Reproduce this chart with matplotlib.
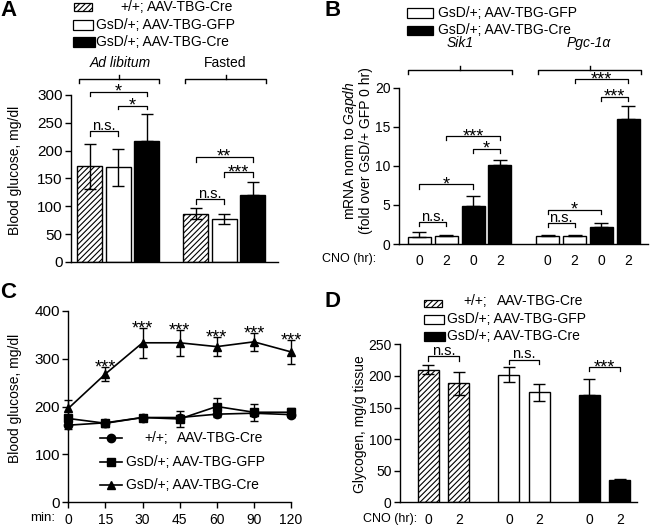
import matplotlib
matplotlib.use("Agg")
import matplotlib.pyplot as plt
from matplotlib.patches import Rectangle
from matplotlib.lines import Line2D

plt.rcParams['font.family'] = ['Liberation Sans', 'DejaVu Sans']
plt.rcParams['mathtext.fontset'] = 'custom'
plt.rcParams['mathtext.it'] = 'Liberation Sans:italic'
plt.rcParams['mathtext.rm'] = 'Liberation Sans'
plt.rcParams['hatch.linewidth'] = 0.8
plt.rcParams['font.size'] = 10

# ---------------- data ----------------
genotypes = ['+/+;', 'GsD/+;', 'GsD/+;']
vectors = ['AAV-TBG-Cre', 'AAV-TBG-GFP', 'AAV-TBG-Cre']

# Panel A: blood glucose (mg/dl)
A_conditions = ['Ad libitum', 'Fasted']
A_adlib = [172, 170, 217]
A_adlib_err = [40, 33, 48]
A_fasted = [87, 77, 120]
A_fasted_err = [10, 9, 23]

# Panel B: mRNA fold change
B_genes = ['Sik1', 'Pgc-1α']
B_cno = ['0', '2', '0', '2']
B_sik1 = [0.95, 1.02, 4.85, 10.1]
B_sik1_err = [0.55, 0.08, 1.25, 0.7]
B_pgc = [1.05, 1.0, 2.2, 16.05]
B_pgc_err = [0.13, 0.1, 0.5, 1.55]

# Panel C: blood glucose time course
C_time = ['0', '15', '30', '45', '60', '90', '120']
C_wt_cre = [161, 166, 177, 177, 184, 186, 183]
C_wt_cre_err = [9, 5, 6, 6, 5, 5, 5]
C_gsd_gfp = [175, 165, 177, 174, 200, 188, 188]
C_gsd_gfp_err = [8, 7, 6, 16, 17, 18, 9]
C_gsd_cre = [196, 268, 333, 333, 325, 335, 314]
C_gsd_cre_err = [18, 15, 31, 27, 20, 19, 25]
C_stars = ['', '***', '***', '***', '***', '***', '***']

# Panel D: glycogen (mg/g tissue)
D_cno = ['0', '2']
D_wt_cre = [210, 188]
D_wt_cre_err = [7, 18]
D_gsd_gfp = [202, 174]
D_gsd_gfp_err = [12, 13]
D_gsd_cre = [170, 35]
D_gsd_cre_err = [25, 2]

# ---------------- helpers ----------------
W, H = 650, 527
fig = plt.figure(figsize=(6.5, 5.27), dpi=100)

STAR_FS = 13
NS_FS = 10.5


def fx(x):
    return x / W


def fy(y):
    return 1 - y / H


def add_ax(left, right, top, bottom):
    return fig.add_axes([fx(left), fy(bottom), (right - left) / W, (bottom - top) / H])


def fline(xs, ys, lw=1.0):
    fig.add_artist(Line2D([fx(x) for x in xs], [fy(y) for y in ys],
                          transform=fig.transFigure, color='k', lw=lw))


def ftext(x, y, s, **kw):
    fig.text(fx(x), fy(y), s, **kw)


def frect(x0, x1, y0, y1, fc, hatch=None):
    fig.add_artist(Rectangle((fx(x0), fy(y1)), (x1 - x0) / W, (y1 - y0) / H,
                             transform=fig.transFigure, facecolor=fc,
                             edgecolor='k', lw=0.9, hatch=hatch))


def style(ax, ysize=10):
    for s in ['top', 'right']:
        ax.spines[s].set_visible(False)
    for s in ['left', 'bottom']:
        ax.spines[s].set_linewidth(1.0)
    ax.tick_params(axis='y', length=4, width=1.0, labelsize=ysize, pad=2)


def bracket(ax, x1, x2, y, leg, label):
    ax.plot([x1, x1, x2, x2], [y - leg, y, y, y - leg], color='k', lw=0.9,
            clip_on=False)
    if label.startswith('*'):
        off, fs = -3.6, STAR_FS
    else:
        off, fs = 1.0, NS_FS
    ax.annotate(label, xy=((x1 + x2) / 2, y), xytext=(0, off),
                textcoords='offset points', ha='center', va='baseline',
                fontsize=fs, annotation_clip=False)


def group_bracket(x0, x1, y):
    xm = (x0 + x1) / 2
    fline([x0, x0, x1, x1], [y + 4, y, y, y + 4])
    fline([xm, xm], [y, y - 4])


fills = ['white', 'white', 'black']
hatches = ['//////', None, None]

# ---------------- Panel A ----------------
axA = add_ax(71, 278, 95, 262)
style(axA, 11)
A_pos = [[0, 3.72], [1, 4.72], [2, 5.72]]
for g in range(3):
    vals = [A_adlib[g], A_fasted[g]]
    errs = [A_adlib_err[g], A_fasted_err[g]]
    axA.bar(A_pos[g], vals, width=0.88, color=fills[g], edgecolor='k',
            lw=1.0, hatch=hatches[g])
    lower = [0, 0] if g == 2 else errs
    axA.errorbar(A_pos[g], vals, yerr=[lower, errs], fmt='none', ecolor='k',
                 elinewidth=1.0, capsize=4.5, capthick=1.0)
axA.set_xlim(-0.65, 6.61)
axA.set_ylim(0, 300)
axA.set_yticks([0, 50, 100, 150, 200, 250, 300])
axA.set_xticks([])
bracket(axA, 0, 2, 306, 8, '*')
bracket(axA, 1, 2, 281, 7, '*')
bracket(axA, 0, 1, 235, 9, 'n.s.')
bracket(axA, 3.72, 5.72, 189, 9, '**')
bracket(axA, 4.72, 5.72, 161, 8, '***')
bracket(axA, 3.72, 4.72, 113, 9, 'n.s.')
ftext(15, 170, 'Blood glucose, mg/dl', rotation=90, ha='center', va='center')
group_bracket(79, 159, 79)
group_bracket(185, 266, 79)
ftext(120, 63, A_conditions[0], ha='center', va='center', style='italic')
ftext(225, 63, A_conditions[1], ha='center', va='center')
# legend A
frect(74, 92, 3.5, 11, 'white', '//////')
frect(73, 93, 19.5, 29.5, 'white')
frect(73, 95, 37, 47, 'black')
ftext(120.7, 7.3, genotypes[0], ha='left', va='center')
ftext(233, 7.3, vectors[0], ha='right', va='center')
ftext(96, 25, genotypes[1] + ' ' + vectors[1], ha='left', va='center')
ftext(96, 42.3, genotypes[2] + ' ' + vectors[2], ha='left', va='center')
ftext(0, 10, 'A', fontsize=16, fontweight='bold', va='center', ha='left')

# ---------------- Panel B ----------------
axB = add_ax(399, 648, 87.7, 244)
style(axB)
B_pos = [0, 1, 2, 3, 4.79, 5.79, 6.79, 7.79]
B_vals = B_sik1 + B_pgc
B_errs = B_sik1_err + B_pgc_err
B_cols = ['white', 'white', 'black', 'black'] * 2
axB.bar(B_pos, B_vals, width=0.86, color=B_cols, edgecolor='k', lw=1.0)
axB.errorbar(B_pos, B_vals, yerr=[[0] * 8, B_errs], fmt='none', ecolor='k',
             elinewidth=1.0, capsize=5, capthick=1.0)
axB.set_xlim(-0.765, 8.53)
axB.set_ylim(0, 20)
axB.set_yticks([0, 5, 10, 15, 20])
axB.set_xticks(B_pos)
axB.set_xticklabels(B_cno * 2)
axB.tick_params(axis='x', length=0, pad=7, labelsize=10)
bracket(axB, 0, 1, 2.76, 0.5, 'n.s.')
bracket(axB, 0, 2, 7.63, 0.55, '*')
bracket(axB, 1, 3, 13.8, 0.55, '***')
bracket(axB, 2, 3, 12.2, 0.55, '*')
bracket(axB, 4.79, 5.79, 2.63, 0.45, 'n.s.')
bracket(axB, 4.79, 6.79, 4.36, 0.55, '*')
bracket(axB, 5.79, 7.79, 21.06, 0.5, '***')
bracket(axB, 6.79, 7.79, 18.86, 0.55, '***')
ftext(376, 259, 'CNO (hr):', ha='right', va='center', fontsize=9)
ftext(350, 151, r'mRNA norm to $\it{Gapdh}$', rotation=90, ha='center', va='center')
ftext(366, 151, '(fold over GsD/+ GFP 0 hr)', rotation=90, ha='center', va='center')
group_bracket(408, 512, 70)
group_bracket(538, 641, 70)
ftext(460, 43, B_genes[0], ha='center', va='center', style='italic')
ftext(589, 43, B_genes[1], ha='center', va='center', style='italic')
frect(407, 433, 8.5, 17.5, 'white')
frect(407, 433, 26, 34.5, 'black')
ftext(438, 13, genotypes[1] + ' ' + vectors[1], ha='left', va='center')
ftext(438, 30.5, genotypes[2] + ' ' + vectors[2], ha='left', va='center')
ftext(325, 10, 'B', fontsize=16, fontweight='bold', va='center', ha='left')

# ---------------- Panel C ----------------
axC = add_ax(68.3, 291, 310.7, 502.3)
style(axC, 11)
xC = list(range(len(C_time)))
for vals, errs, mk in [(C_wt_cre, C_wt_cre_err, 'o'),
                       (C_gsd_gfp, C_gsd_gfp_err, 's'),
                       (C_gsd_cre, C_gsd_cre_err, '^')]:
    cont = axC.errorbar(xC, vals, yerr=errs, marker=mk, color='k', ms=6,
                        lw=1.2, elinewidth=1.0, capsize=3, capthick=1.0)
    arts = [cont.lines[0]] + list(cont.lines[1]) + list(cont.lines[2])
    for art in arts:
        art.set_clip_on(False)
for i, s in enumerate(C_stars):
    if s:
        axC.annotate(s, xy=(xC[i], C_gsd_cre[i] + C_gsd_cre_err[i]),
                     xytext=(0, -4.0), textcoords='offset points',
                     ha='center', va='baseline', fontsize=STAR_FS,
                     annotation_clip=False)
axC.set_xlim(0, 6)
axC.set_ylim(0, 400)
axC.set_yticks([0, 100, 200, 300, 400])
axC.set_xticks(xC)
axC.set_xticklabels(C_time)
axC.tick_params(axis='x', length=4, width=1.0, pad=4, labelsize=10)
ftext(55, 518, 'min:', ha='right', va='center', fontsize=9.5)
ftext(15, 398, 'Blood glucose, mg/dl', rotation=90, ha='center', va='center')
for yy, mk in zip([438.3, 462.3, 485], ['o', 's', '^']):
    fig.add_artist(Line2D([fx(100), fx(121.7)], [fy(yy), fy(yy)],
                          transform=fig.transFigure, color='k', lw=1.2))
    fig.add_artist(Line2D([fx(110.7)], [fy(yy)], transform=fig.transFigure,
                          color='k', marker=mk, ms=6, lw=0))
ftext(144, 438.3, genotypes[0], ha='left', va='center')
ftext(263.3, 438.3, vectors[0], ha='right', va='center')
ftext(126, 462.3, genotypes[1] + ' ' + vectors[1], ha='left', va='center')
ftext(126, 485, genotypes[2] + ' ' + vectors[2], ha='left', va='center')
ftext(0, 292.5, 'C', fontsize=16, fontweight='bold', va='center', ha='left')

# ---------------- Panel D ----------------
axD = add_ax(400, 637, 344.3, 502.3)
style(axD)
D_pos = [[0, 1], [2.64, 3.64], [5.28, 6.28]]
for g, (vals, errs) in enumerate([(D_wt_cre, D_wt_cre_err),
                                  (D_gsd_gfp, D_gsd_gfp_err),
                                  (D_gsd_cre, D_gsd_cre_err)]):
    axD.bar(D_pos[g], vals, width=0.69, color=fills[g], edgecolor='k',
            lw=1.0, hatch=hatches[g])
    lower = [0, 0] if g == 2 else errs
    axD.errorbar(D_pos[g], vals, yerr=[lower, errs], fmt='none', ecolor='k',
                 elinewidth=1.0, capsize=4, capthick=1.0)
axD.set_xlim(-0.934, 6.84)
axD.set_ylim(0, 250)
axD.set_yticks([0, 50, 100, 150, 200, 250])
allpos = [p for grp in D_pos for p in grp]
axD.set_xticks(allpos)
axD.set_xticklabels(D_cno * 3)
axD.tick_params(axis='x', length=0, pad=7.5, labelsize=10)
bracket(axD, 0, 1, 231, 8, 'n.s.')
bracket(axD, 2.64, 3.64, 225.5, 7, 'n.s.')
bracket(axD, 5.28, 6.28, 214, 7, '***')
ftext(417, 519, 'CNO (hr):', ha='right', va='center', fontsize=9)
ftext(360, 424, 'Glycogen, mg/g tissue', rotation=90, ha='center', va='center')
frect(423.5, 441.5, 299.5, 306.5, 'white', '//////')
frect(423.5, 444.5, 315.3, 323.7, 'white')
frect(423.5, 445, 332.3, 340.7, 'black')
ftext(463.3, 301.3, genotypes[0], ha='left', va='center')
ftext(583.3, 301.3, vectors[0], ha='right', va='center')
ftext(447.3, 318.7, genotypes[1] + ' ' + vectors[1], ha='left', va='center')
ftext(447.3, 335.7, genotypes[2] + ' ' + vectors[2], ha='left', va='center')
ftext(325, 301.7, 'D', fontsize=16, fontweight='bold', va='center', ha='left')

fig.savefig('out.png', dpi=100)
